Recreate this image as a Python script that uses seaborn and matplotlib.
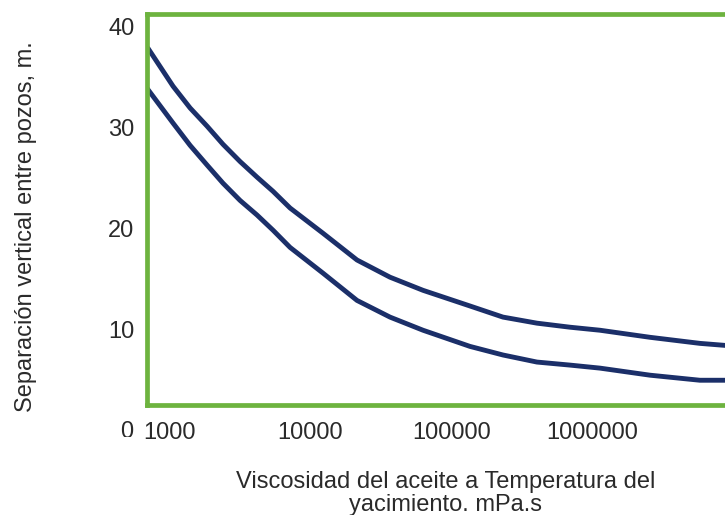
import numpy as np
import pandas as pd
import matplotlib
matplotlib.use("Agg")
import matplotlib.pyplot as plt
import matplotlib.transforms as mtransforms
import seaborn as sns

# ---- data ----
visc_upper = [704, 1059, 1398, 1845, 2395, 3162, 4175, 5420, 7155, 12260,
              21370, 36620, 62810, 135200, 231700, 403600, 691800,
              1130000, 2560000, 5780000, 8710000]
sep_upper = [37.8, 34.05, 31.9, 30.1, 28.3, 26.6, 25.05, 23.65, 22.0, 19.5,
             16.85, 15.15, 13.85, 12.3, 11.2, 10.6, 10.2,
             9.9, 9.2, 8.6, 8.4]

visc_lower = [692, 1059, 1398, 1845, 2395, 3162, 4175, 5420, 7155, 12260,
              21370, 36620, 62810, 135200, 231700, 403600, 691800,
              1130000, 2560000, 5780000, 8710000]
sep_lower = [33.85, 30.4, 28.2, 26.25, 24.45, 22.75, 21.3, 19.8, 18.1, 15.55,
             12.85, 11.2, 9.9, 8.3, 7.45, 6.75, 6.45,
             6.15, 5.45, 4.95, 4.95]

curve_names = ["superior", "inferior"]
x_ticks = [1000, 10000, 100000, 1000000]
x_tick_labels = ["1000", "10000", "100000", "1000000"]
y_ticks = [10, 20, 30, 40]
y_tick_labels = ["10", "20", "30", "40"]
x_label = "Viscosidad del aceite a Temperatura del\nyacimiento. mPa.s"
y_label = "Separación vertical entre pozos, m."

df = pd.concat([
    pd.DataFrame({"visc": visc_upper, "sep": sep_upper, "curva": curve_names[0]}),
    pd.DataFrame({"visc": visc_lower, "sep": sep_lower, "curva": curve_names[1]}),
])

sns.set_theme(style="white")
plt.rcParams["font.family"] = ["Liberation Sans", "DejaVu Sans"]

navy = "#1b2f69"
green = "#6db33f"
text_color = "#2a2a2a"
fs = 17

fig = plt.figure(figsize=(7.25, 5.15), dpi=100)
ax = fig.add_axes([147 / 725, 1 - 405 / 515, 1 - 147 / 725, (405 - 14) / 515])

sns.lineplot(data=df, x="visc", y="sep", hue="curva",
             palette=[navy, navy], linewidth=3.5, legend=False, ax=ax,
             estimator=None, sort=True)
for ln in ax.get_lines():
    ln.set_solid_joinstyle("round")
    ln.set_solid_capstyle("round")

ax.set_xscale("log")
ax.set_xlim(10 ** 2.84, 10 ** 6.94)
ax.set_ylim(2.5, 41.2)

ax.set_xticks(x_ticks)
ax.set_xticklabels(x_tick_labels)
ax.set_yticks(y_ticks)
ax.set_yticklabels(y_tick_labels)
ax.xaxis.set_minor_locator(matplotlib.ticker.NullLocator())
ax.tick_params(axis="both", length=0, labelsize=fs, colors=text_color)
ax.tick_params(axis="x", pad=12)
ax.tick_params(axis="y", pad=9)

for side in ["left", "top", "bottom"]:
    ax.spines[side].set_visible(True)
    ax.spines[side].set_color(green)
    ax.spines[side].set_linewidth(3.4)
ax.spines["right"].set_visible(False)
ax.grid(False)

ax.set_xlabel(x_label, fontsize=fs, color=text_color, linespacing=1.05)
ax.xaxis.set_label_coords(0.516, -0.17)
ax.xaxis.label.set_verticalalignment("top")

ax.set_ylabel(y_label, fontsize=fs, color=text_color)
ax.yaxis.set_label_coords(-0.19, 0.455)

# partially hidden "0" label at the bottom of the y axis
blend = mtransforms.blended_transform_factory(ax.transAxes, ax.transData)
t0 = fig.text(0, -0.15, "0",
              transform=blend + mtransforms.ScaledTranslation(-10 / 72, 0, fig.dpi_scale_trans),
              ha="right", va="center", fontsize=fs, color=text_color)
t0.set_clip_on(True)
t0.set_clip_box(mtransforms.TransformedBbox(
    mtransforms.Bbox([[-0.5, -0.7], [0.5, 60]]), blend))

fig.savefig("out.png", dpi=100)
